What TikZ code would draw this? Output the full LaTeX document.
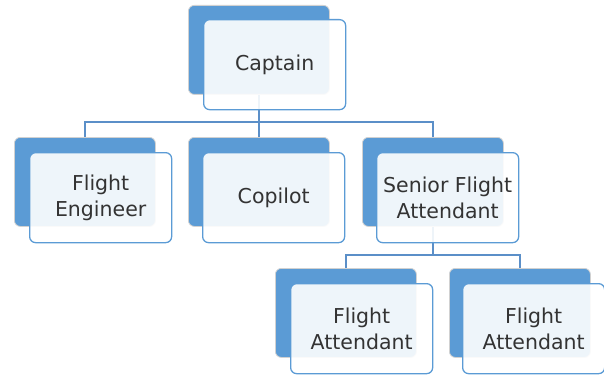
\documentclass[tikz,border=0pt]{standalone}
\usepackage{fontspec}
\setmainfont{DejaVu Sans}
\definecolor{boxblue}{HTML}{5B9BD5}
\definecolor{txt}{HTML}{333333}
\definecolor{linec}{HTML}{5B8FC8}
\begin{document}
\begin{tikzpicture}[x=1pt,y=-1pt,
  backbox/.style={draw=black!18, line width=0.8pt, fill=boxblue, rounded corners=6pt,
    minimum width=141pt, minimum height=89pt, inner sep=0pt, anchor=north west},
  frontbox/.style={draw=boxblue, line width=1.3pt, fill=white, fill opacity=0.9, text opacity=1,
    rounded corners=6pt, minimum width=142pt, minimum height=90pt, inner sep=0pt,
    anchor=north west, align=center, text=txt,
    font=\fontsize{20.5}{26}\selectfont},
  conn/.style={draw=linec, line width=1.5pt}]
\useasboundingbox (0,0) rectangle (604,377);
% back boxes
\node[backbox] (capB) at (188,5) {};
\node[backbox] (feB) at (14,137) {};
\node[backbox] (coB) at (188,137) {};
\node[backbox] (sfB) at (362,137) {};
\node[backbox] (fa1B) at (275,268) {};
\node[backbox] (fa2B) at (449,268) {};
% junction coordinates
\coordinate (j1) at (258,122);
\coordinate (j2) at (433,255);
% connectors
\draw[conn] (capB.south) -- (capB.south |- j1);
\draw[conn] (feB.north) |- (j1) -| (sfB.north);
\draw[conn] (coB.north) -- (coB.north |- j1);
\draw[conn] (sfB.south) -- (sfB.south |- j2);
\draw[conn] (fa1B.north) |- (j2) -| (fa2B.north);
% front boxes
\node[frontbox] (capF) at (203,19) {Captain};
\node[frontbox] (feF) at (29,152) {Flight\\Engineer};
\node[frontbox] (coF) at (202,152) {Copilot};
\node[frontbox] (sfF) at (376,152) {Senior Flight\\Attendant};
\node[frontbox] (fa1F) at (290,283) {Flight\\Attendant};
\node[frontbox] (fa2F) at (462,283) {Flight\\Attendant};
\end{tikzpicture}
\end{document}
